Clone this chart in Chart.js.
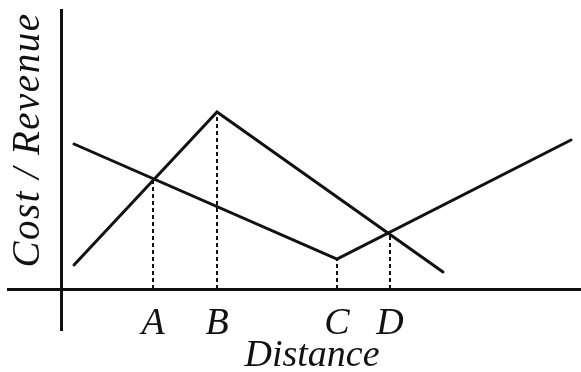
<!DOCTYPE html>
<html>
<head>
<meta charset="utf-8">
<script src="https://cdn.jsdelivr.net/npm/chart.js@4"></script>
<style>
  html, body { margin: 0; padding: 0; background: #fff; }
  #wrap { width: 581px; height: 372px; }
</style>
</head>
<body>
<div id="wrap"><canvas id="c" width="581" height="372"></canvas></div>
<script>
// ---- data ----
const revenueX = [1.3, 15.6, 38.2];
const revenueY = [2.4, 17.7, 1.7];
const costX = [1.3, 27.6, 51.0];
const costY = [14.5, 3.0, 14.9];
const markLabels = ['A', 'B', 'C', 'D'];
const markX = [9.2, 15.6, 27.6, 32.9];
const markY = [10.9, 17.7, 3.0, 5.6];
const xTitle = 'Distance';
const yTitle = 'Cost / Revenue';

const INK = '#111';
const FONT_FAMILY = '"Liberation Serif", "Times New Roman", serif';

const pts = (xs, ys) => xs.map((x, i) => ({ x: x, y: ys[i] }));

const datasets = [
  { label: 'Revenue', data: pts(revenueX, revenueY), borderColor: INK, borderWidth: 3, pointRadius: 0, tension: 0, borderCapStyle: 'round', borderJoinStyle: 'miter' },
  { label: 'Cost', data: pts(costX, costY), borderColor: INK, borderWidth: 3, pointRadius: 0, tension: 0, borderCapStyle: 'round', borderJoinStyle: 'miter' }
];
markX.forEach((x, i) => {
  datasets.push({
    label: 'guide ' + markLabels[i],
    data: [{ x: x, y: 0 }, { x: x, y: markY[i] }],
    borderColor: INK, borderWidth: 2, borderDash: [4, 3], pointRadius: 0
  });
});

const titlePlugin = {
  id: 'axisTitles',
  afterDraw(chart) {
    const ctx = chart.ctx;
    ctx.save();
    ctx.fillStyle = INK;
    ctx.font = 'italic 38px ' + FONT_FAMILY;
    ctx.textAlign = 'center';
    ctx.textBaseline = 'middle';
    ctx.fillText(xTitle, 312, 356);
    ctx.font = 'italic 39px ' + FONT_FAMILY;
    if ('letterSpacing' in ctx) ctx.letterSpacing = '1.5px';
    ctx.translate(29, 140);
    ctx.rotate(-Math.PI / 2);
    ctx.fillText(yTitle, 0, 0);
    ctx.restore();
  }
};

new Chart(document.getElementById('c'), {
  type: 'line',
  data: { datasets: datasets },
  options: {
    responsive: false,
    animation: false,
    events: [],
    layout: { padding: { left: 8, top: 10, right: 0, bottom: 42 } },
    plugins: { legend: { display: false }, tooltip: { enabled: false } },
    scales: {
      x: {
        type: 'linear',
        position: { y: 0 },
        min: -5.3, max: 52,
        grid: { display: false, drawTicks: false },
        border: { display: true, color: INK, width: 3 },
        afterBuildTicks: (scale) => { scale.ticks = markX.map(v => ({ value: v })); },
        ticks: {
          autoSkip: false, maxRotation: 0, padding: 12,
          color: INK,
          font: { family: FONT_FAMILY, size: 38, style: 'italic' },
          callback: (value, index) => markLabels[index]
        }
      },
      y: {
        type: 'linear',
        position: { x: 0 },
        min: -4.1, max: 27.9,
        grid: { display: false, drawTicks: false },
        border: { display: true, color: INK, width: 3 },
        ticks: { display: false }
      }
    }
  },
  plugins: [titlePlugin]
});
</script>
</body>
</html>
